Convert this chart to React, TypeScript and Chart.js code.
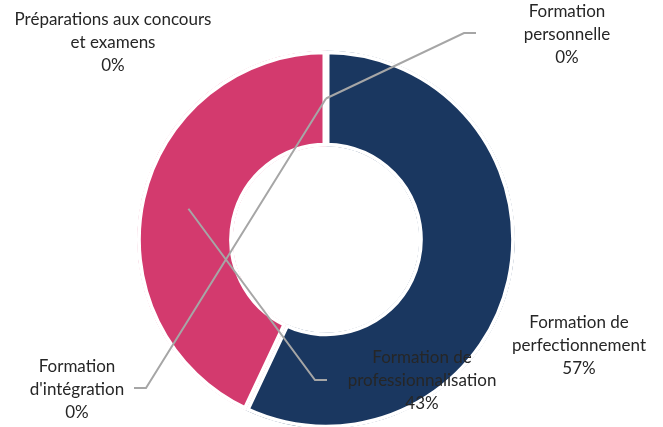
import React, { useEffect, useRef } from "react";
import { Chart, registerables } from "chart.js";

Chart.register(...registerables);

// ---- data ----
const categories: string[][] = [
  ["Formation", "d'intégration"],
  ["Formation de", "perfectionnement"],
  ["Formation de", "professionnalisation"],
  ["Formation", "personnelle"],
  ["Préparations aux concours", "et examens"],
];
const values: number[] = [0, 57, 43, 0, 0];
const colors: string[] = ["#A5A5A5", "#1A3760", "#D33A6E", "#4472C4", "#ED7D31"];

// ---- label layout (manual label placement, like the original) ----
type Lay = { x: number; y: number; elbow?: [number, number]; end?: [number, number] };
const labelLayout: Lay[] = [
  { x: 77, y: 367, elbow: [146, 388], end: [134, 388] },
  { x: 579, y: 323 },
  { x: 422, y: 358, elbow: [315, 380], end: [327, 380] },
  { x: 567, y: 12, elbow: [464, 33], end: [476, 33] },
  { x: 113, y: 20 },
];
const FONT = "17px Lato";
const LINE_H = 23;
const TEXT_COLOR = "#262626";
const LEADER_COLOR = "#A6A6A6";

const labelPlugin = {
  id: "sliceLabels",
  afterDatasetsDraw(chart: any) {
    const ctx: CanvasRenderingContext2D = chart.ctx;
    const meta = chart.getDatasetMeta(0);
    const data = chart.data.datasets[0].data as number[];
    const total = data.reduce((a, b) => a + b, 0);
    ctx.save();
    ctx.strokeStyle = LEADER_COLOR;
    ctx.lineWidth = 2;
    meta.data.forEach((arc: any, i: number) => {
      const lay = labelLayout[i];
      if (!lay.elbow || !lay.end) return;
      const p = arc.getCenterPoint();
      ctx.beginPath();
      ctx.moveTo(p.x, p.y);
      ctx.lineTo(lay.elbow[0], lay.elbow[1]);
      ctx.lineTo(lay.end[0], lay.end[1]);
      ctx.stroke();
    });
    ctx.font = FONT;
    ctx.fillStyle = TEXT_COLOR;
    ctx.textAlign = "center";
    ctx.textBaseline = "middle";
    (chart.data.labels as string[][]).forEach((lbl, i) => {
      const lay = labelLayout[i];
      const pct = Math.round((data[i] / total) * 100) + "%";
      const lines = [...lbl, pct];
      lines.forEach((t, k) => ctx.fillText(t, lay.x, lay.y + k * LINE_H));
    });
    ctx.restore();
  },
};

export default function App() {
  const ref = useRef<HTMLCanvasElement>(null);
  useEffect(() => {
    if (!ref.current) return;
    const chart = new Chart(ref.current, {
      type: "doughnut",
      data: {
        labels: categories as any,
        datasets: [
          {
            data: values,
            backgroundColor: colors,
            borderColor: "#FFFFFF",
            borderWidth: 3.5,
            borderAlign: "inner",
            clip: false as any,
          } as any,
        ],
      },
      options: {
        animation: false,
        responsive: true,
        maintainAspectRatio: false,
        radius: 189,
        cutout: "49.2%",
        layout: { padding: { left: 0, right: 11, top: 52, bottom: 0 } },
        plugins: {
          legend: { display: false },
          tooltip: { enabled: false },
        },
      } as any,
      plugins: [labelPlugin],
    });
    return () => chart.destroy();
  }, []);
  return (
    <div style={{ position: "fixed", left: 0, top: 0, width: 663, height: 427, background: "#fff" }}>
      <canvas ref={ref} />
    </div>
  );
}
